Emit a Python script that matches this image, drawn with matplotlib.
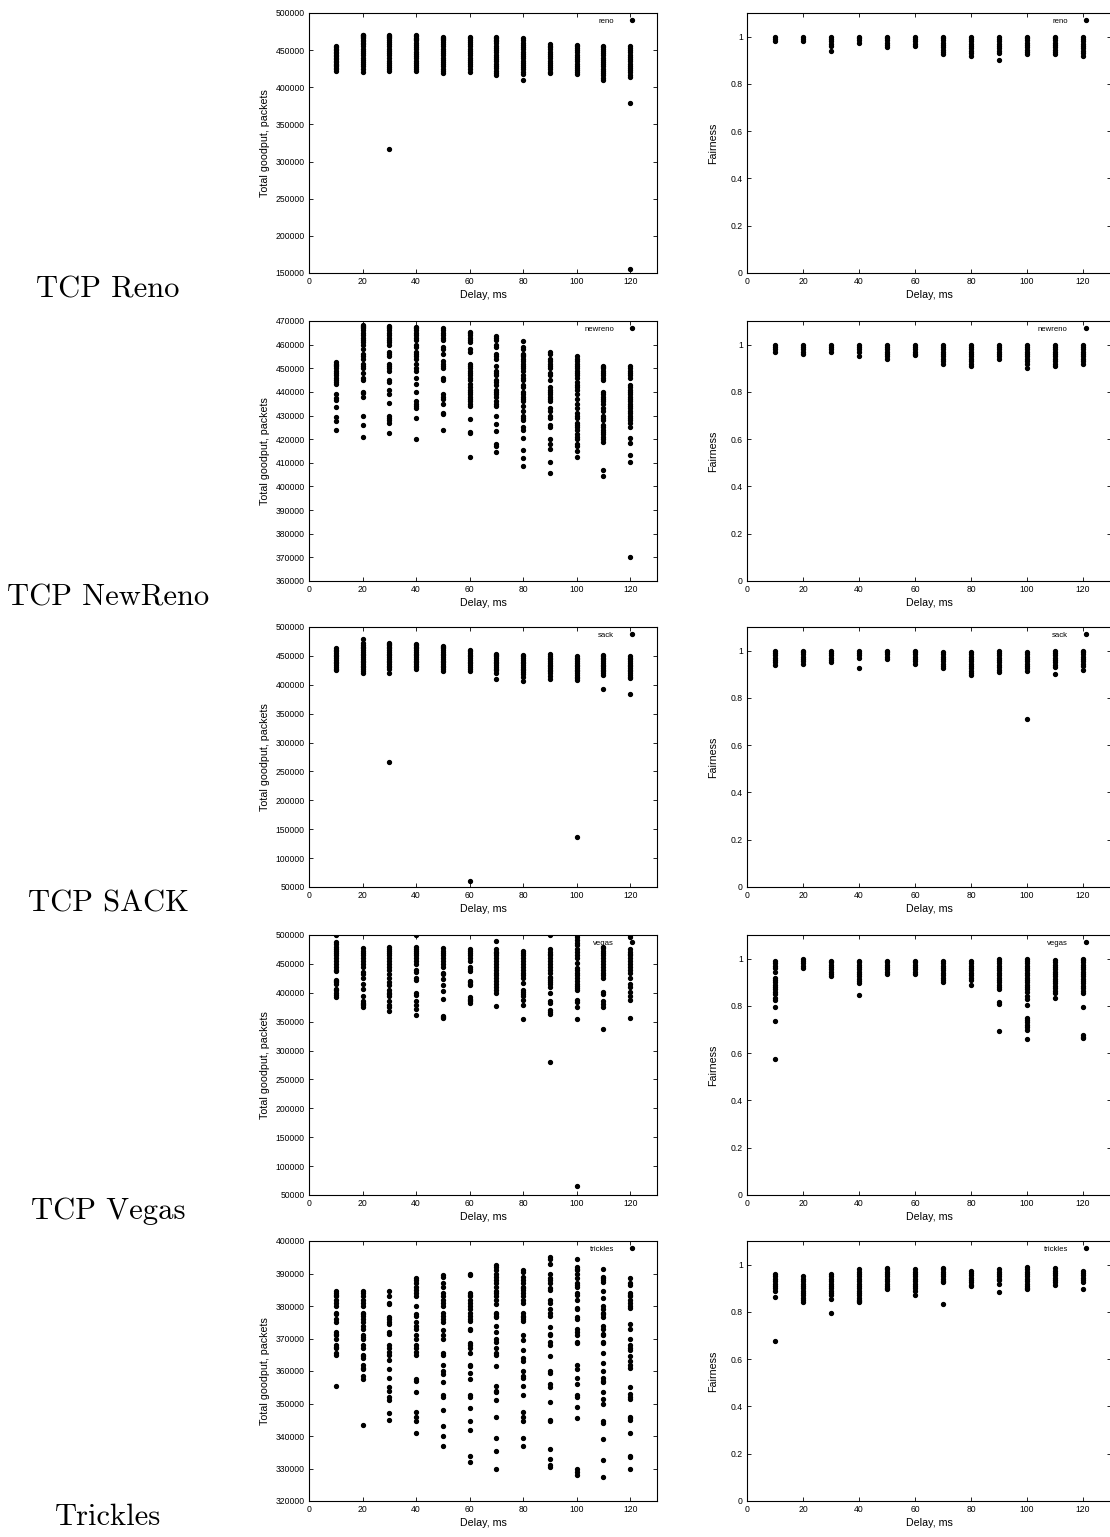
import numpy as np
import matplotlib
matplotlib.use("Agg")
import matplotlib.pyplot as plt
from matplotlib.ticker import FuncFormatter

plt.rcParams['font.family'] = ['Liberation Sans', 'DejaVu Sans']

DELAYS = [10, 20, 30, 40, 50, 60, 70, 80, 90, 100, 110, 120]

# goodput values in thousands of packets, one list per delay
reno_goodput = [
    [422, 424, 426, 428, 430, 432, 434, 436, 438, 440, 442, 444, 446, 448, 450, 452, 454, 455],
    [420, 425, 428, 431, 434, 437, 440, 443, 446, 449, 452, 455, 458, 460, 462, 464, 466, 468, 469, 470, 471],
    [317, 422, 424, 427, 430, 433, 436, 440, 443, 446, 449, 452, 455, 458, 461, 464, 466, 468, 469, 470],
    [422, 424, 427, 430, 433, 436, 439, 442, 445, 448, 451, 454, 457, 460, 463, 465, 467, 469, 470],
    [419, 422, 425, 428, 431, 434, 437, 440, 443, 446, 449, 452, 455, 458, 461, 463, 465, 467, 468],
    [420, 424, 428, 431, 434, 437, 440, 443, 446, 449, 452, 455, 458, 461, 464, 466, 468],
    [417, 419, 422, 426, 428, 432, 435, 438, 441, 444, 447, 450, 453, 456, 459, 462, 464, 466, 468],
    [410, 418, 421, 424, 427, 430, 433, 436, 439, 442, 445, 448, 451, 454, 457, 460, 463, 466],
    [419, 421, 424, 427, 430, 433, 436, 439, 442, 445, 448, 451, 454, 456, 458],
    [418, 420, 423, 426, 429, 432, 435, 438, 441, 444, 447, 450, 453, 455, 457],
    [410, 413, 416, 419, 422, 425, 428, 431, 434, 437, 440, 443, 446, 449, 452, 454, 456],
    [155, 379, 414, 417, 420, 423, 426, 429, 432, 435, 438, 441, 444, 447, 450, 453, 455],
]
reno_fairness = [
    [0.98, 0.99, 1.0],
    [0.98, 0.99, 1.0],
    [0.94, 0.96, 0.97, 0.98, 0.99, 1.0],
    [0.975, 0.985, 0.995, 1.0],
    [0.955, 0.965, 0.975, 0.985, 0.995, 1.0],
    [0.96, 0.97, 0.98, 0.99, 1.0],
    [0.925, 0.935, 0.945, 0.955, 0.965, 0.975, 0.985, 0.995, 1.0],
    [0.92, 0.93, 0.94, 0.95, 0.96, 0.97, 0.98, 0.99, 1.0],
    [0.90, 0.93, 0.94, 0.95, 0.96, 0.97, 0.98, 0.99, 1.0],
    [0.925, 0.935, 0.945, 0.955, 0.965, 0.975, 0.985, 0.995, 1.0],
    [0.925, 0.935, 0.945, 0.955, 0.965, 0.975, 0.985, 0.995, 1.0],
    [0.92, 0.93, 0.94, 0.95, 0.96, 0.97, 0.98, 0.99, 1.0],
]

newreno_goodput = [
    [452.5, 452, 451.5, 451, 450, 449, 448, 447, 446, 445, 444, 443.5, 439, 437.5, 436.5, 433.5, 429.5, 427.5, 424],
    [468.5, 468, 467.5, 467, 466, 465, 464, 463, 462, 461, 460, 458, 456, 455, 454, 452, 451, 450, 448, 446, 445,
     440, 439.5, 438, 430, 426, 421],
    [468, 467.5, 467, 466, 465, 464, 463, 462, 461, 460, 457, 456, 455, 452, 451, 450, 449, 445, 444, 441, 439,
     435.5, 430, 429, 428, 427, 422.5],
    [467.5, 467, 466, 465, 464, 463, 462, 460, 459, 457, 456, 455, 454, 452, 450, 449, 446, 443.5, 440, 436, 435,
     434, 433, 429, 420],
    [467, 466, 465, 464, 463, 462, 459, 458, 456, 453, 452, 451, 450, 446, 445, 439, 438, 437, 435, 431, 430.5, 424],
    [465.5, 465, 464, 463, 462, 461, 458, 457, 452, 451, 450, 449, 448, 447, 446, 445, 443.5, 442, 441, 440, 439,
     438, 437, 436, 435, 434, 428.5, 423, 422.5, 412.5],
    [463.5, 463, 462, 460, 459, 456, 455, 454, 451, 449, 448, 447, 445, 444, 443, 441, 440, 439, 438, 436, 435, 434,
     430, 426.5, 423.5, 418, 417, 414.5],
    [461.5, 459, 458, 456, 455.5, 455, 454, 453, 452, 451, 450, 449, 447, 446, 445, 443, 442, 440, 439, 438, 437,
     436, 434, 432, 430, 429, 428, 425, 424, 420.5, 415.5, 412, 408.5],
    [457, 456, 454, 453, 452, 451, 450, 448, 447, 445, 442, 441, 440, 439, 438, 437, 436, 433, 432, 430, 429, 426,
     425, 420, 418, 416, 410.5, 405.5],
    [455, 454, 453, 452, 451, 450, 449, 448, 447, 446, 444, 443, 442, 441, 439, 437, 435, 433, 431, 430, 429, 427,
     426, 425, 424, 422, 421, 420, 418, 417, 415, 412.5],
    [451, 450.5, 450, 449, 448, 447, 446, 445, 440, 439, 438, 437, 436, 435, 433, 432, 430, 429, 428, 426, 425, 424,
     423, 422, 421, 420, 419, 407, 404.5],
    [451, 450, 449, 448, 447, 446, 443, 442, 441, 440, 439, 438, 437, 436, 435, 434, 433, 432, 431, 430, 429, 428,
     427, 425, 420.5, 418.5, 413.5, 410.5, 370],
]
newreno_fairness = [
    [0.97, 0.98, 0.99, 1.0],
    [0.96, 0.97, 0.98, 0.99, 1.0],
    [0.97, 0.98, 0.99, 1.0],
    [0.95, 0.97, 0.98, 0.99, 1.0],
    [0.94, 0.95, 0.96, 0.97, 0.98, 0.99, 1.0],
    [0.955, 0.96, 0.97, 0.98, 0.99, 1.0],
    [0.92, 0.93, 0.94, 0.95, 0.96, 0.97, 0.98, 0.99, 1.0],
    [0.91, 0.92, 0.93, 0.94, 0.95, 0.96, 0.97, 0.98, 0.99, 1.0],
    [0.94, 0.95, 0.96, 0.97, 0.98, 0.99, 1.0],
    [0.90, 0.92, 0.93, 0.94, 0.95, 0.96, 0.97, 0.98, 0.99, 1.0],
    [0.91, 0.92, 0.93, 0.94, 0.95, 0.96, 0.97, 0.98, 0.99, 1.0],
    [0.92, 0.93, 0.94, 0.95, 0.96, 0.97, 0.98, 0.99, 1.0],
]

sack_goodput = [
    [425, 428, 431, 434, 437, 440, 443, 446, 449, 452, 455, 458, 461, 463],
    [421, 424, 427, 430, 433, 436, 439, 442, 445, 448, 451, 454, 457, 460, 463, 466, 469, 472, 480],
    [267, 420, 427, 430, 433, 436, 439, 442, 445, 448, 451, 454, 457, 460, 463, 466, 469, 471, 473],
    [427, 430, 433, 436, 439, 442, 445, 448, 451, 454, 457, 460, 463, 466, 469, 471],
    [424, 427, 430, 433, 436, 439, 442, 445, 448, 451, 454, 457, 460, 463, 466, 467],
    [61, 424, 428, 431, 434, 437, 440, 443, 446, 449, 452, 455, 458, 460],
    [410, 420, 425, 428, 431, 434, 437, 440, 443, 446, 449, 451, 453],
    [406, 414, 419, 422, 425, 428, 431, 434, 437, 440, 443, 446, 449, 451],
    [410, 416, 420, 423, 426, 429, 432, 435, 438, 441, 444, 447, 450, 453],
    [137, 408, 411, 414, 417, 420, 423, 426, 429, 432, 435, 438, 441, 444, 447, 449],
    [393, 417, 420, 423, 426, 429, 432, 435, 438, 441, 444, 447, 450, 451],
    [384, 411, 414, 417, 420, 423, 426, 429, 432, 435, 438, 441, 444, 447, 449],
]
sack_fairness = [
    [0.94, 0.95, 0.96, 0.97, 0.98, 0.99, 1.0],
    [0.945, 0.955, 0.965, 0.975, 0.985, 0.995, 1.0],
    [0.95, 0.96, 0.97, 0.98, 0.99, 1.0],
    [0.925, 0.97, 0.98, 0.99, 1.0],
    [0.965, 0.975, 0.985, 0.995, 1.0],
    [0.945, 0.955, 0.965, 0.975, 0.985, 0.995, 1.0],
    [0.925, 0.935, 0.945, 0.955, 0.965, 0.975, 0.985, 0.995],
    [0.895, 0.905, 0.915, 0.925, 0.935, 0.945, 0.955, 0.965, 0.975, 0.985, 0.995],
    [0.91, 0.92, 0.93, 0.94, 0.95, 0.96, 0.97, 0.98, 0.99, 1.0],
    [0.71, 0.915, 0.925, 0.935, 0.945, 0.955, 0.965, 0.975, 0.985, 0.995],
    [0.90, 0.93, 0.94, 0.95, 0.96, 0.97, 0.98, 0.99, 1.0],
    [0.92, 0.935, 0.945, 0.955, 0.965, 0.975, 0.985, 0.995, 1.0],
]

vegas_goodput = [
    [500, 488, 485, 480, 476, 472, 468, 465, 460, 455, 450, 445, 440, 437, 422, 420, 418, 415, 407, 404, 400, 396, 392],
    [477, 473, 469, 465, 460, 455, 450, 445, 436, 433, 425, 416, 407, 395, 385, 382, 380, 378, 375],
    [480, 476, 472, 468, 465, 460, 455, 450, 445, 440, 432, 425, 418, 413, 405, 400, 398, 395, 385, 378, 375, 368],
    [500, 480, 476, 472, 468, 465, 460, 455, 450, 440, 436, 425, 422, 400, 397, 385, 378, 372, 362],
    [477, 473, 469, 465, 460, 455, 450, 445, 435, 432, 423, 413, 403, 390, 360, 358, 357],
    [476, 472, 468, 465, 460, 455, 445, 442, 438, 420, 418, 415, 413, 392, 390, 388, 385, 383],
    [490, 475, 471, 468, 465, 460, 455, 450, 445, 440, 435, 430, 425, 420, 415, 410, 405, 400, 377],
    [473, 469, 465, 460, 455, 450, 445, 440, 435, 430, 425, 417, 405, 402, 398, 395, 388, 378, 355],
    [500, 475, 471, 467, 465, 460, 455, 450, 445, 440, 435, 427, 425, 422, 418, 415, 410, 400, 385, 382, 370, 367,
     363, 280],
    [500, 497, 492, 486, 482, 476, 470, 465, 460, 452, 443, 440, 435, 430, 425, 420, 416, 412, 408, 405, 388, 384,
     376, 354, 65],
    [480, 477, 473, 469, 465, 460, 455, 450, 445, 440, 435, 430, 425, 402, 398, 385, 380, 375, 338],
    [500, 497, 475, 471, 467, 465, 460, 455, 450, 445, 440, 435, 425, 415, 410, 402, 395, 387, 357],
]
vegas_fairness = [
    [0.99, 0.98, 0.97, 0.96, 0.945, 0.92, 0.91, 0.90, 0.89, 0.88, 0.87, 0.86, 0.85, 0.835, 0.825, 0.795, 0.735, 0.575],
    [0.96, 0.97, 0.98, 0.99, 1.0],
    [0.925, 0.935, 0.945, 0.955, 0.965, 0.975, 0.985, 0.99],
    [0.845, 0.895, 0.905, 0.915, 0.925, 0.935, 0.945, 0.955, 0.965, 0.975, 0.985, 0.99],
    [0.935, 0.945, 0.955, 0.965, 0.975, 0.985, 0.99],
    [0.935, 0.945, 0.955, 0.965, 0.975, 0.985, 0.99],
    [0.90, 0.91, 0.92, 0.93, 0.94, 0.95, 0.96, 0.97, 0.98, 0.99],
    [0.89, 0.91, 0.92, 0.93, 0.94, 0.95, 0.96, 0.97, 0.98, 0.99],
    [0.695, 0.81, 0.815, 0.87, 0.88, 0.89, 0.90, 0.91, 0.92, 0.93, 0.94, 0.95, 0.96, 0.97, 0.98, 0.99, 1.0],
    [0.66, 0.70, 0.71, 0.72, 0.73, 0.74, 0.75, 0.805, 0.83, 0.84, 0.86, 0.87, 0.88, 0.89, 0.90, 0.91, 0.92, 0.93,
     0.94, 0.95, 0.96, 0.97, 0.98, 0.99, 1.0],
    [0.835, 0.855, 0.865, 0.875, 0.885, 0.895, 0.905, 0.915, 0.925, 0.935, 0.945, 0.955, 0.965, 0.975, 0.985, 0.995],
    [0.665, 0.67, 0.675, 0.795, 0.855, 0.865, 0.875, 0.885, 0.895, 0.905, 0.915, 0.925, 0.935, 0.945, 0.955, 0.965,
     0.975, 0.985, 0.995, 1.0],
]

trickles_goodput = [
    [384.5, 384, 383.5, 383, 382, 381, 380, 378, 377.5, 376, 375, 372, 371.5, 371, 370, 368, 367.5, 367, 365.5, 365,
     355.3],
    [384.5, 384, 383, 382, 381, 380, 378, 377.5, 377, 376, 375, 374, 373, 371, 370.5, 370, 368, 367, 365, 364.5, 364,
     362, 361, 360.5, 358.5, 357.5, 343.5],
    [384.5, 383, 381, 380.5, 376.5, 376, 375, 374.5, 372, 371.5, 368, 367, 366, 365, 363.5, 360.5, 358, 355, 354, 352,
     351, 347, 345],
    [388.5, 388, 387, 386, 385, 384, 383, 380, 377.5, 377, 375, 374, 373, 371, 370, 368, 367, 366, 365, 357.5, 357,
     353.5, 347.5, 346, 344.5, 341],
    [389.5, 389, 387, 386, 384, 383, 382, 381, 380, 378, 377, 376, 375, 372.5, 371, 370, 365.5, 365, 362, 360, 359,
     356.5, 352.5, 352, 348, 343, 340, 337],
    [390, 389.5, 384, 383.5, 383, 382, 381, 380, 379, 378, 377, 376, 375.5, 373, 372.5, 368.5, 368, 367, 365.5, 362,
     361.5, 359.5, 357.5, 352.5, 352, 348.5, 344.5, 342, 334, 332],
    [392.5, 392, 391, 390, 389, 388, 387, 386, 384.5, 384, 383, 382, 380.5, 378, 377.5, 377, 376.5, 374, 372, 370,
     369, 367, 365.5, 365, 361.5, 355.5, 354, 353.5, 351, 346, 339.5, 335.5, 330],
    [391, 390.5, 389, 388, 387, 386, 385.5, 385, 384, 383, 382, 381, 378, 377, 376.5, 376, 375.5, 371, 369.5, 366.5,
     364, 363, 360, 358.5, 358, 355.5, 352.5, 347.5, 346, 344.5, 339.5, 337],
    [395, 394.5, 393, 390, 388.5, 388, 387, 385.5, 385, 382, 381, 379, 378, 377, 373.5, 371.5, 371, 369, 368, 364.5,
     360, 359.5, 356, 355, 350.5, 345, 344.5, 336, 333, 331, 330.5],
    [394.5, 392, 391.5, 391, 390, 388.5, 387, 386.5, 386, 384, 383.5, 382, 379.5, 379, 376.5, 376, 373, 372, 371, 369,
     368.5, 362, 360.5, 358, 356, 352.5, 352, 349, 345.5, 330, 329, 328],
    [391.5, 389, 388.5, 388, 387.5, 384.5, 382.5, 380, 379, 378, 377.5, 376.5, 374, 373, 371.5, 371, 369, 368.5,
     365.5, 362.5, 360, 358, 357, 356.5, 353.5, 351.5, 350, 344.5, 344, 339, 332.5, 327.5],
    [388.5, 387, 386.5, 384, 383.5, 383, 382, 381, 380, 379.5, 374.5, 373, 370, 368, 367, 366.5, 364.5, 363, 362, 361,
     355, 353, 352, 351.5, 346, 345.5, 345, 341, 334, 333.5, 330],
]
trickles_fairness = [
    [0.96, 0.95, 0.94, 0.93, 0.92, 0.91, 0.90, 0.89, 0.865, 0.675],
    [0.95, 0.94, 0.93, 0.92, 0.91, 0.90, 0.89, 0.88, 0.87, 0.86, 0.85, 0.84],
    [0.96, 0.95, 0.94, 0.93, 0.92, 0.91, 0.90, 0.89, 0.88, 0.87, 0.855, 0.795],
    [0.98, 0.97, 0.96, 0.95, 0.94, 0.93, 0.92, 0.91, 0.90, 0.89, 0.88, 0.87, 0.86, 0.85, 0.845, 0.84],
    [0.985, 0.98, 0.97, 0.96, 0.95, 0.94, 0.93, 0.92, 0.91, 0.90, 0.895],
    [0.98, 0.97, 0.96, 0.95, 0.94, 0.93, 0.92, 0.91, 0.90, 0.89, 0.87],
    [0.985, 0.98, 0.97, 0.96, 0.95, 0.94, 0.93, 0.925, 0.835],
    [0.975, 0.965, 0.955, 0.945, 0.935, 0.925, 0.915, 0.91],
    [0.98, 0.97, 0.96, 0.95, 0.94, 0.935, 0.92, 0.885],
    [0.99, 0.98, 0.97, 0.96, 0.95, 0.94, 0.93, 0.92, 0.91, 0.90, 0.895],
    [0.985, 0.975, 0.965, 0.955, 0.945, 0.935, 0.925, 0.915],
    [0.975, 0.965, 0.955, 0.945, 0.935, 0.925, 0.895],
]

names = ["reno", "newreno", "sack", "vegas", "trickles"]
row_labels = ["TCP Reno", "TCP NewReno", "TCP SACK", "TCP Vegas", "Trickles"]
goodputs = [reno_goodput, newreno_goodput, sack_goodput, vegas_goodput, trickles_goodput]
fairnesses = [reno_fairness, newreno_fairness, sack_fairness, vegas_fairness, trickles_fairness]
# y ranges of the goodput panels (low, high, tick step)
goodput_ranges = [(150000, 500000, 50000), (360000, 470000, 10000), (50000, 500000, 50000),
                  (50000, 500000, 50000), (320000, 400000, 10000)]

W, H = 1110, 1537
tops = [13, 321, 627, 935, 1241]
ax_h = 260


def style(ax):
    ax.set_xlim(0, 130)
    ax.set_xticks(range(0, 121, 20))
    ax.tick_params(direction='in', top=True, right=True, length=3.2, width=0.6,
                   labelsize=6.2, pad=3)
    for s in ax.spines.values():
        s.set_linewidth(0.8)
    ax.set_xlabel("Delay, ms", fontsize=7.7, labelpad=2.5)


def scatter(ax, columns, name, scale=1.0, anchor=0.966):
    x, y = [], []
    for d, vals in zip(DELAYS, columns):
        x += [d] * len(vals)
        y += [v * scale for v in vals]
    ax.plot(x, y, 'o', color='black', ms=2.8, label=name)
    ax.legend(loc='upper right', markerfirst=False, frameon=False, numpoints=1,
              fontsize=5.6, handlelength=2.2, handletextpad=1.2,
              bbox_to_anchor=(anchor, 1.0), borderaxespad=0.2)


fig = plt.figure(figsize=(W / 100, H / 100), dpi=100)
for i in range(5):
    bottom = 1 - (tops[i] + ax_h) / H
    axl = fig.add_axes([309 / W, bottom, 348 / W, ax_h / H])
    axr = fig.add_axes([747 / W, bottom, 364 / W, ax_h / H])

    scatter(axl, goodputs[i], names[i], 1000, 0.966)
    lo, hi, step = goodput_ranges[i]
    axl.set_ylim(lo, hi)
    axl.set_yticks(np.arange(lo, hi + 1, step))
    axl.yaxis.set_major_formatter(FuncFormatter(lambda v, p: "%d" % v))
    style(axl)
    axl.set_ylabel("Total goodput, packets", fontsize=7.7, labelpad=4)

    scatter(axr, fairnesses[i], names[i], 1.0, 0.967)
    axr.set_ylim(0, 1.1)
    axr.set_yticks([0, 0.2, 0.4, 0.6, 0.8, 1.0])
    axr.yaxis.set_major_formatter(FuncFormatter(lambda v, p: "%g" % v))
    style(axr)
    axr.set_ylabel("Fairness", fontsize=7.7, labelpad=9)

    fig.text(108 / W, 1 - (tops[i] + ax_h + 24) / H, row_labels[i],
             fontfamily='cmr10', fontsize=22, ha='center', va='baseline')

fig.savefig("out.png", dpi=100)
